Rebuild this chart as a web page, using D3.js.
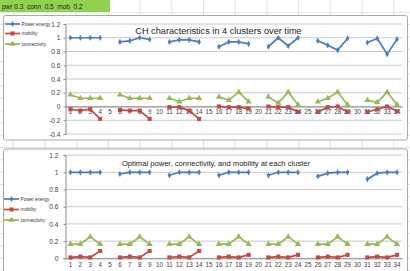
<!DOCTYPE html>
<html>
<head>
<meta charset="utf-8">
<script src="https://cdn.jsdelivr.net/npm/d3@7"></script>
<style>
  body { margin: 0; background: #fff; }
  svg { display: block; font-family: "Liberation Sans", Arial, sans-serif; }
</style>
</head>
<body>
<div id="chart"></div>
<script>
// ---- data ----
const categories = ["1","2","3","4","5","6","7","8","9","10","11","12","13","14","15","16","17",
                    "18","19","20","21","22","23","24","25","26","27","28","29","30","31","32","33","34"];
const seriesNames = ["Power energy", "mobility", "connectivity"];
const headerText = "pwr 0.3  conn  0.5  mob  0.2";
const topTitle = "CH characteristics in 4 clusters over time";
const bottomTitle = "Optimal power, connectivity, and mobility at each cluster";

// top chart (null = empty column between clusters)
const topPower = [1, 1, 1, 1, null, 0.94, 0.955, 1, 0.975, null, 0.94, 0.97, 0.97, 0.94, null,
                  0.87, 0.94, 0.94, 0.91, null, 0.87, 1, 0.88, 1, null, 0.955, 0.89, 0.82, 0.99, null,
                  0.93, 0.99, 0.76, 0.98];
const topMobility = [-0.04, -0.06, -0.04, -0.18, null, -0.05, -0.06, -0.06, -0.18, null,
                     -0.01, -0.01, -0.06, -0.18, null, 0, -0.01, -0.01, -0.03, null,
                     0, -0.01, -0.01, -0.08, null, -0.08, -0.01, 0, -0.08, null,
                     -0.08, -0.04, 0, -0.07];
const topConnectivity = [0.17, 0.12, 0.12, 0.12, null, 0.17, 0.12, 0.12, 0.12, null,
                         0.12, 0.07, 0.12, 0.12, null, 0.14, 0.09, 0.21, 0.07, null,
                         0.14, 0.05, 0.21, 0.025, null, 0.07, 0.12, 0.21, 0.025, null,
                         0.09, 0.06, 0.21, 0.025];
const topTicks = [-0.4, -0.2, 0, 0.2, 0.4, 0.6, 0.8, 1, 1.2];

// bottom chart
const bottomPower = [1, 1, 1, 1, null, 0.98, 1, 1, 1, null, 0.965, 1, 1, 1, null,
                     0.965, 1, 1, 1, null, 0.965, 1, 1, 1, null, 0.953, 0.99, 1, 1, null,
                     0.92, 0.99, 1, 1];
const bottomMobility = [0.01, 0.02, 0.01, 0.085, null, 0.01, 0.02, 0.01, 0.085, null,
                        0.01, 0.02, 0.01, 0.085, null, 0.01, 0.02, 0.01, 0.04, null,
                        0.01, 0.02, 0.01, 0.04, null, 0.01, 0.02, 0.01, 0.04, null,
                        0.01, 0.02, 0.01, 0.04];
const bottomConnectivity = [0.165, 0.165, 0.25, 0.165, null, 0.165, 0.165, 0.25, 0.165, null,
                            0.165, 0.165, 0.25, 0.165, null, 0.165, 0.165, 0.25, 0.165, null,
                            0.165, 0.165, 0.25, 0.165, null, 0.165, 0.165, 0.25, 0.165, null,
                            0.165, 0.165, 0.25, 0.165];
const bottomTicks = [0, 0.2, 0.4, 0.6, 0.8, 1, 1.2];

// ---- styling ----
const colors = ["#4a7ebb", "#be4b48", "#98b954"];
const symbols = [d3.symbolDiamond, d3.symbolSquare, d3.symbolTriangle];
const symbolSizes = [11, 17, 17];

const W = 410, H = 271;
const svg = d3.select("#chart").append("svg")
  .attr("width", W)
  .attr("height", H);

// spreadsheet cell grid behind the charts
const cellGrid = svg.append("g").attr("stroke", "#dadada").attr("stroke-width", 0.8);
cellGrid.selectAll(".col").data(d3.range(13.3, W, 31.7)).join("line")
  .attr("x1", d => d).attr("x2", d => d).attr("y1", 0).attr("y2", H);
cellGrid.selectAll(".row").data(d3.range(12.3, H, 12.3)).join("line")
  .attr("x1", 0).attr("x2", W).attr("y1", d => d).attr("y2", d => d);

// green header cell
svg.append("rect")
  .attr("x", 0).attr("y", 0).attr("width", 110).attr("height", 12)
  .attr("fill", "#92d050");
svg.append("text")
  .attr("x", 2).attr("y", 8.6)
  .attr("font-size", 6.5)
  .attr("fill", "#222")
  .text(headerText.replace(/ /g, "\u00a0"));

function drawChart(cfg) {
  const g = svg.append("g");

  g.append("rect")
    .attr("x", cfg.box.x).attr("y", cfg.box.y)
    .attr("width", cfg.box.w).attr("height", cfg.box.h)
    .attr("rx", 2)
    .attr("fill", "#fff")
    .attr("stroke", "#a0a0a0")
    .attr("stroke-width", 0.9);

  const x = d3.scaleBand()
    .domain(categories)
    .range([cfg.plot.left, cfg.plot.right]);
  const y = d3.scaleLinear()
    .domain(cfg.domain)
    .range([cfg.plot.bottom, cfg.plot.top]);

  // horizontal gridlines
  g.append("g")
    .selectAll("line")
    .data(cfg.ticks)
    .join("line")
      .attr("x1", cfg.plot.left).attr("x2", cfg.plot.right)
      .attr("y1", d => y(d)).attr("y2", d => y(d))
      .attr("stroke", "#c4c4c4")
      .attr("stroke-width", 0.9);

  // Y axis
  const ya = g.append("g")
    .attr("transform", "translate(" + cfg.plot.left + ",0)")
    .call(d3.axisLeft(y).tickValues(cfg.ticks).tickSize(2).tickPadding(cfg.yPad)
      .tickFormat(d => String(d)));
  ya.select(".domain").attr("stroke", "#8a8a8a");
  ya.selectAll(".tick line").attr("stroke", "#8a8a8a");
  ya.selectAll("text").attr("font-size", 6.6).attr("fill", "#404040");

  // X axis crossing at 0
  const xa = g.append("g")
    .attr("transform", "translate(0," + y(0) + ")")
    .call(d3.axisBottom(x).tickSize(0).tickPadding(cfg.xPad));
  xa.select(".domain").attr("stroke", "#8a8a8a");
  xa.selectAll("text").attr("font-size", 6.3).attr("fill", "#404040");

  // series
  cfg.series.forEach((vals, i) => {
    const pts = categories.map((c, k) => ({c: c, v: vals[k]}));
    const line = d3.line()
      .defined(d => d.v !== null)
      .x(d => x(d.c) + x.bandwidth() / 2)
      .y(d => y(d.v));
    g.append("path")
      .datum(pts)
      .attr("fill", "none")
      .attr("stroke", colors[i])
      .attr("stroke-width", 1.7)
      .attr("d", line);
    g.append("g")
      .selectAll("path")
      .data(pts.filter(d => d.v !== null))
      .join("path")
        .attr("transform", d => "translate(" + (x(d.c) + x.bandwidth() / 2) + "," + y(d.v) + ")")
        .attr("d", d3.symbol(symbols[i], symbolSizes[i]))
        .attr("fill", colors[i]);
  });

  // legend
  const lg = g.append("g");
  seriesNames.forEach((name, i) => {
    const ly = cfg.legend.y[i];
    lg.append("line")
      .attr("x1", cfg.legend.x).attr("x2", cfg.legend.x + 15)
      .attr("y1", ly).attr("y2", ly)
      .attr("stroke", colors[i]).attr("stroke-width", 1.7);
    lg.append("path")
      .attr("transform", "translate(" + (cfg.legend.x + 7.5) + "," + ly + ")")
      .attr("d", d3.symbol(symbols[i], symbolSizes[i]))
      .attr("fill", colors[i]);
    lg.append("text")
      .attr("x", cfg.legend.x + 16.5).attr("y", ly + 1.8)
      .attr("font-size", 4.7)
      .attr("fill", "#333")
      .text(name);
  });

  // title
  g.append("text")
    .attr("x", cfg.titlePos[0]).attr("y", cfg.titlePos[1])
    .attr("text-anchor", "middle")
    .attr("font-size", cfg.titleSize)
    .attr("fill", "#222")
    .text(cfg.title);
}

drawChart({
  box: {x: 3.5, y: 15.5, w: 404, h: 124.5},
  plot: {left: 65.5, right: 402, top: 24, bottom: 134},
  domain: [-0.4, 1.2],
  ticks: topTicks,
  yPad: 3,
  xPad: 3,
  series: [topPower, topMobility, topConnectivity],
  legend: {x: 5, y: [24, 33.5, 44]},
  title: topTitle,
  titlePos: [218.5, 34],
  titleSize: 9.2
});

drawChart({
  box: {x: 3.5, y: 149, w: 404, h: 130},
  plot: {left: 65.5, right: 402, top: 155.1, bottom: 258.3},
  domain: [0, 1.2],
  ticks: bottomTicks,
  yPad: 5,
  xPad: 4,
  series: [bottomPower, bottomMobility, bottomConnectivity],
  legend: {x: 4, y: [199, 209.5, 220]},
  title: bottomTitle,
  titlePos: [216, 165.5],
  titleSize: 7.6
});
</script>
</body>
</html>
